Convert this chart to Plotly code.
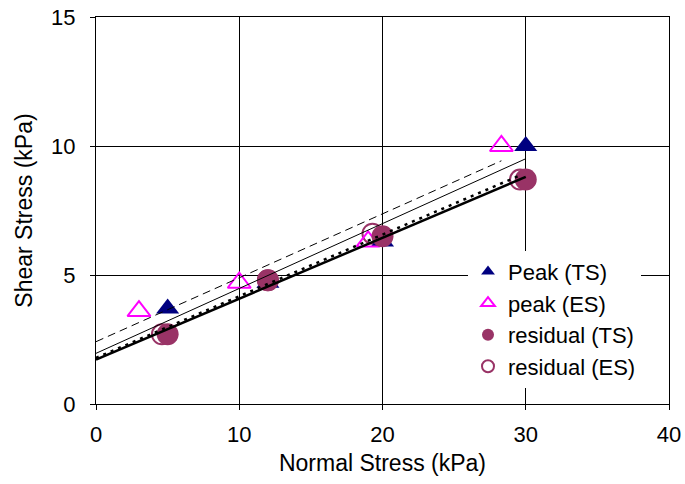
import numpy as np
import plotly.graph_objects as go

# Data
peak_ts_x = [5, 12, 20, 30]
peak_ts_y = [3.7, 4.7, 6.3, 10.0]
peak_es_x = [3, 10, 19, 28.3]
peak_es_y = [3.6, 4.7, 6.3, 10.0]
res_ts_x = [5, 12, 20, 30]
res_ts_y = [2.7, 4.8, 6.5, 8.7]
res_es_x = [4.6, 12, 19.3, 29.6]
res_es_y = [2.7, 4.8, 6.6, 8.7]

series_names = ["Peak (TS)", "peak (ES)", "residual (TS)", "residual (ES)"]
x_ticks = [0, 10, 20, 30, 40]
y_ticks = [0, 5, 10, 15]

FONT = "Liberation Sans, Arial, sans-serif"
NAVY = "#000080"
MAG = "#FF00FF"
PLUM = "#993366"

fig = go.Figure()

# open residual circles sit underneath the filled ones
fig.add_trace(go.Scatter(x=res_es_x, y=res_es_y, mode="markers", name=series_names[3],
                         legendrank=4,
                         marker=dict(symbol="circle-open", size=20, color=PLUM,
                                     line=dict(width=2, color=PLUM))))
fig.add_trace(go.Scatter(x=peak_ts_x, y=peak_ts_y, mode="markers", name=series_names[0],
                         legendrank=1,
                         marker=dict(symbol="triangle-up", size=20, color=NAVY)))
fig.add_trace(go.Scatter(x=peak_es_x, y=peak_es_y, mode="markers", name=series_names[1],
                         legendrank=2,
                         marker=dict(symbol="triangle-up-open", size=20, color=MAG,
                                     line=dict(width=2, color=MAG))))
fig.add_trace(go.Scatter(x=res_ts_x, y=res_ts_y, mode="markers", name=series_names[2],
                         legendrank=3,
                         marker=dict(symbol="circle", size=22, color=PLUM)))

# Linear trendlines (extended back to zero normal stress)
def trend(xs, ys):
    m, c = np.polyfit(xs, ys, 1)
    xx = np.array([0.0, max(xs)])
    return xx, m * xx + c

for xs, ys, dash, w in [(peak_ts_x, peak_ts_y, "solid", 1),
                        (peak_es_x, peak_es_y, "8px,5px", 1),
                        (res_ts_x, res_ts_y, "solid", 2.5),
                        (res_es_x, res_es_y, "3px,5px", 2.5)]:
    tx, ty = trend(xs, ys)
    fig.add_trace(go.Scatter(x=tx, y=ty, mode="lines", showlegend=False, hoverinfo="skip",
                             line=dict(color="black", width=w, dash=dash)))

fig.update_layout(
    width=685, height=484,
    margin=dict(l=96, r=16, t=17, b=80, autoexpand=False),
    paper_bgcolor="white", plot_bgcolor="white",
    font=dict(family=FONT, size=22, color="black"),
    showlegend=True,
    legend=dict(x=(468 - 96) / 573, y=(404.5 - 251) / 387.5, xanchor="left", yanchor="top",
                bgcolor="white", borderwidth=0, itemsizing="constant",
                font=dict(family=FONT, size=22), tracegroupgap=0),
)
fig.update_xaxes(range=[0, 40], tickvals=x_ticks, showgrid=True, gridcolor="black", gridwidth=1,
                 showline=True, mirror=True, linecolor="black", linewidth=1, ticks="outside",
                 ticklen=5, tickcolor="black", zeroline=False, automargin=False,
                 ticklabelstandoff=6, tickfont=dict(size=22),
                 title=dict(text="Normal Stress (kPa)", font=dict(size=23), standoff=8))
fig.update_yaxes(range=[0, 15], tickvals=y_ticks, showgrid=True, gridcolor="black", gridwidth=1,
                 showline=True, mirror=True, linecolor="black", linewidth=1, ticks="outside",
                 ticklen=5, tickcolor="black", zeroline=False, automargin=False,
                 ticklabelstandoff=10, tickfont=dict(size=22),
                 title=dict(text="Shear Stress (kPa)", font=dict(size=23), standoff=12))

fig.write_html("out.html", config={"displayModeBar": False},
               post_script="document.body.style.margin='0';document.body.style.padding='0';")
